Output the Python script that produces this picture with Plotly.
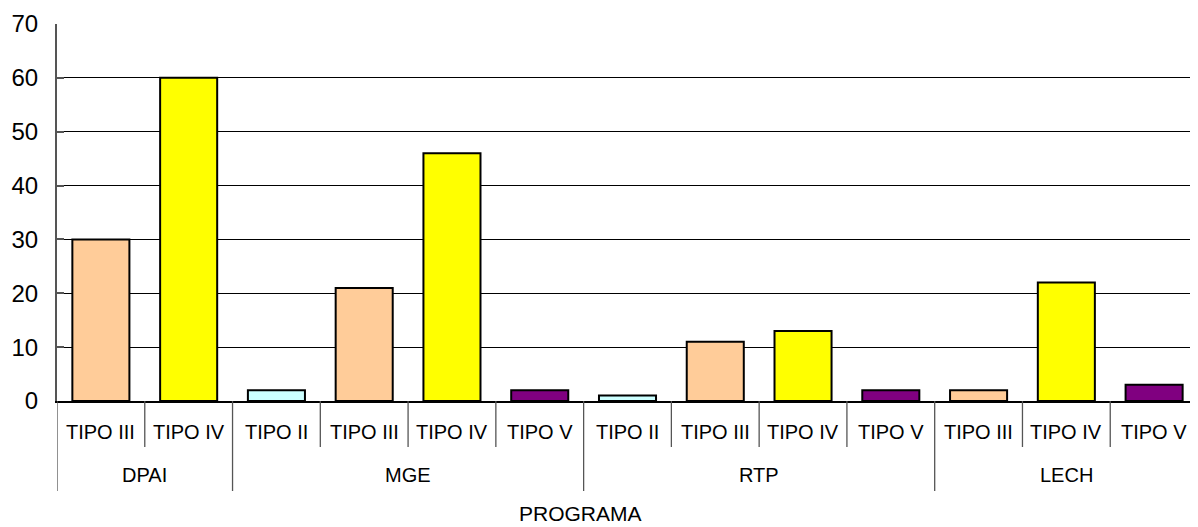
import plotly.graph_objects as go

programs = ["DPAI", "DPAI", "MGE", "MGE", "MGE", "MGE", "RTP", "RTP", "RTP", "RTP", "LECH", "LECH", "LECH"]
tipos = ["TIPO III", "TIPO IV", "TIPO II", "TIPO III", "TIPO IV", "TIPO V",
         "TIPO II", "TIPO III", "TIPO IV", "TIPO V", "TIPO III", "TIPO IV", "TIPO V"]
values = [30, 60, 2, 21, 46, 2, 1, 11, 13, 2, 2, 22, 3]

tipo_colors = {"TIPO II": "#CCFFFF", "TIPO III": "#FFCC99", "TIPO IV": "#FFFF00", "TIPO V": "#800080"}
colors = [tipo_colors[t] for t in tipos]
positions = list(range(len(values)))

FIG_W, FIG_H = 1190, 519
M_L, M_R, M_T, M_B = 49, 0, 16, 126
H_PLOT = FIG_H - M_T - M_B
W_PLOT = FIG_W - M_L - M_R

fig = go.Figure(go.Bar(
    x=positions,
    y=values,
    marker=dict(color=colors, line=dict(color="black", width=2)),
    width=0.65,
    showlegend=False,
))

inner_len = 46 / H_PLOT
outer_len = 90 / H_PLOT

shapes = []
annotations = []
for i in range(len(values) + 1):
    b = i - 0.5
    is_group = i == 0 or i == len(values) or programs[i] != programs[i - 1]
    shapes.append(dict(type="line", xref="x", yref="paper", x0=b, x1=b, y0=0,
                       y1=-(outer_len if is_group else inner_len),
                       line=dict(color="#555555", width=1.3)))
groups = []
for i, p in enumerate(programs):
    if not groups or groups[-1][0] != p:
        groups.append([p, i, i])
    else:
        groups[-1][2] = i
for p, s, e in groups:
    annotations.append(dict(text=p, x=(s + e) / 2, xref="x", y=-74 / H_PLOT,
                            yref="paper", showarrow=False, yanchor="middle",
                            font=dict(size=20)))
for i, t in enumerate(tipos):
    annotations.append(dict(text=t, x=i, xref="x", y=-31 / H_PLOT,
                            yref="paper", showarrow=False, yanchor="middle",
                            font=dict(size=20)))
annotations.append(dict(text="PROGRAMA", x=(572 - M_L) / W_PLOT, xref="paper", y=-112 / H_PLOT,
                        yref="paper", showarrow=False, yanchor="middle",
                        font=dict(size=21)))

fig.update_layout(
    width=FIG_W, height=FIG_H,
    margin=dict(l=M_L, r=M_R, t=M_T, b=M_B, autoexpand=False),
    paper_bgcolor="white", plot_bgcolor="white",
    font=dict(family="Liberation Sans, Arial, sans-serif", color="black"),
    shapes=shapes, annotations=annotations,
)
fig.update_yaxes(
    range=[0, 70], dtick=10, showgrid=True, gridcolor="black", gridwidth=1,
    showline=True, linecolor="#555555", linewidth=2,
    ticks="inside", ticklen=7, tickcolor="#555555", tickwidth=2,
    ticklabelstandoff=12,
    tickfont=dict(size=24), zeroline=False, automargin=False,
)
fig.update_xaxes(
    range=[-0.5, len(values) - 0.5], showticklabels=False, showgrid=False, zeroline=False,
    showline=True, linecolor="black", linewidth=1.5, automargin=False,
)

fig.write_html("out.html")
